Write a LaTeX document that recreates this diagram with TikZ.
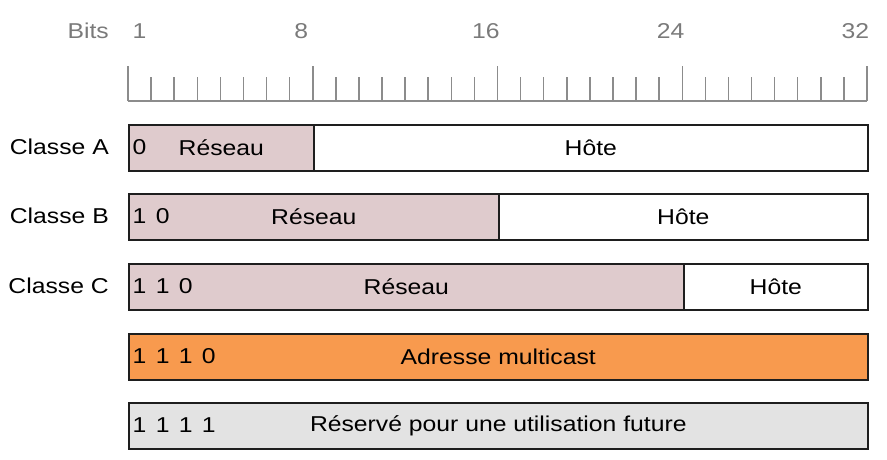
\documentclass[tikz,border=0pt]{standalone}
\usepackage{fontspec}
\setmainfont[FakeStretch=1.15]{Liberation Sans}
\begin{document}
\definecolor{rulergray}{HTML}{8C8C8C}
\definecolor{labelgray}{HTML}{7A7A7A}
\definecolor{netfill}{HTML}{DFCBCD}
\definecolor{mcastfill}{HTML}{F89A4E}
\definecolor{resfill}{HTML}{E3E3E3}
\definecolor{edge}{HTML}{1E1E1E}
\begin{tikzpicture}[x=1pt,y=-1pt,
  txt/.style={font=\fontsize{21.5}{25}\selectfont, inner sep=0pt, text=black},
  ruletxt/.style={txt, text=labelgray},
  seg/.style={draw=edge, line width=1.6pt, inner sep=0pt, anchor=north west,
    minimum height=46pt, font=\fontsize{21.5}{25}\selectfont},
  tickline/.style={draw=rulergray, line width=1.5pt}]
\useasboundingbox (0,0) rectangle (887,459);
\pgfmathsetmacro{\bw}{(867-128)/32}
% bit ruler
\coordinate (r0) at (128,101);
\coordinate (r32) at (867,101);
\draw[tickline] (r0) -- (r32);
\foreach \i in {0,...,32}{
  \pgfmathtruncatemacro{\major}{mod(\i,8)==0 ? 1 : 0}
  \ifnum\major=1
    \draw[tickline] (128+\i*\bw,101) -- (128+\i*\bw,66);
  \else
    \draw[tickline] (128+\i*\bw,101) -- (128+\i*\bw,77);
  \fi
}
\node[ruletxt, anchor=east] (bits) at (109,31) {Bits};
\foreach \b in {1,8,16,24,32}{
  \node[ruletxt] (n\b) at (128+\b*\bw-0.5*\bw,31) {\b};
}
% row labels
\node[txt, anchor=east] (la) at (109,147) {Classe A};
\node[txt, anchor=east] (lb) at (109,216) {Classe B};
\node[txt, anchor=east] (lc) at (109,286) {Classe C};
% class A
\node[seg, fill=netfill, minimum width=185pt] (aNet) at (128,124) {Réseau};
\node[seg, fill=white, minimum width=554pt] (aHost) at (313,124) {Hôte};
% class B
\node[seg, fill=netfill, minimum width=370pt] (bNet) at (128,193) {Réseau};
\node[seg, fill=white, minimum width=369pt] (bHost) at (498,193) {Hôte};
% class C
\node[seg, fill=netfill, minimum width=555pt] (cNet) at (128,263) {Réseau};
\node[seg, fill=white, minimum width=184pt] (cHost) at (683,263) {Hôte};
% class D and E
\node[seg, fill=mcastfill, minimum width=739pt] (dBox) at (128,333) {Adresse multicast};
\node[seg, fill=resfill, minimum width=739pt] (eBox) at (128,402) {Réservé pour une utilisation future};
% leading bits, one digit per bit position
\node[txt] (a1) at (128+0.5*\bw,147) {0};
\node[txt] (b1) at (128+0.5*\bw,216) {1};
\node[txt] (b2) at (128+1.5*\bw,216) {0};
\node[txt] (c1) at (128+0.5*\bw,286) {1};
\node[txt] (c2) at (128+1.5*\bw,286) {1};
\node[txt] (c3) at (128+2.5*\bw,286) {0};
\node[txt] (d1) at (128+0.5*\bw,356) {1};
\node[txt] (d2) at (128+1.5*\bw,356) {1};
\node[txt] (d3) at (128+2.5*\bw,356) {1};
\node[txt] (d4) at (128+3.5*\bw,356) {0};
\node[txt] (e1) at (128+0.5*\bw,425) {1};
\node[txt] (e2) at (128+1.5*\bw,425) {1};
\node[txt] (e3) at (128+2.5*\bw,425) {1};
\node[txt] (e4) at (128+3.5*\bw,425) {1};
\end{tikzpicture}
\end{document}
